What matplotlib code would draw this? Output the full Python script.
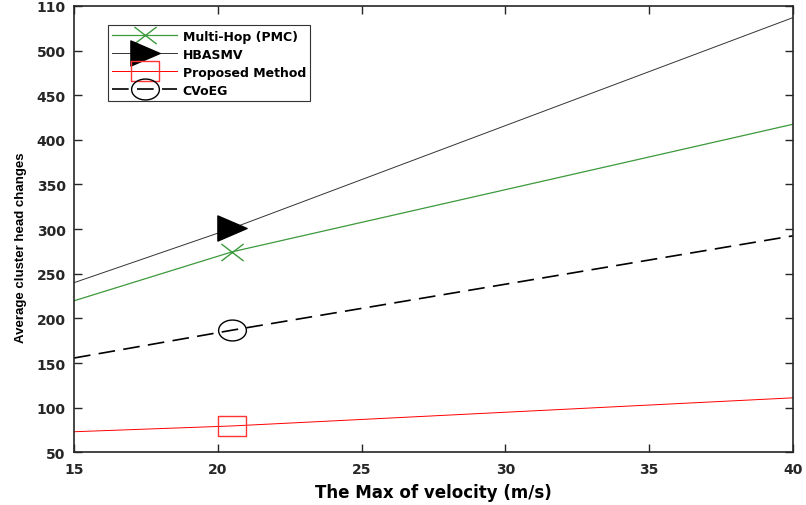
import numpy as np
import matplotlib
matplotlib.use("Agg")
import matplotlib.pyplot as plt
from matplotlib.path import Path

# velocity points (line ends plus the one point that carries a marker)
velocity = [15, 20.5, 40]
multi_hop = [219.7, 274.6, 417.5]
hbasmv = [240, 301, 537]
proposed = [73, 79.5, 111]
cvoeg = [155.6, 186.8, 292.5]

yticks = [50, 100, 150, 200, 250, 300, 350, 400, 450, 500, 550]
ytick_labels = ['50', '100', '150', '200', '250', '300', '350', '400', '450', '500', '110']
xticks = [15, 20, 25, 30, 35, 40]

plt.rcParams['font.family'] = ['DejaVu Sans']
plt.rcParams['font.weight'] = 'bold'

# the picture is stretched sideways, so markers are a bit wider than tall
t = np.linspace(0, 2 * np.pi, 60)
ellipse = Path(np.column_stack([1.33 * np.cos(t), np.sin(t)]), closed=True)
rect = Path([(-1.33, -1), (1.33, -1), (1.33, 1), (-1.33, 1), (-1.33, -1)], closed=True)
tri = Path([(-1.0, 0.86), (1.0, 0), (-1.0, -0.86), (-1.0, 0.86)], closed=True)
cross = Path([(-1.3, -1), (1.3, 1), (-1.3, 1), (1.3, -1)],
             [Path.MOVETO, Path.LINETO, Path.MOVETO, Path.LINETO])

fig = plt.figure(figsize=(8.06, 5.06), dpi=100)
ax = fig.add_axes([0.0918, 0.1042, 0.8921, 0.8820])

ax.plot(velocity, multi_hop, color='#3c9a3c', lw=0.9, marker=cross, markevery=[1],
        ms=16, mew=1.0, label='Multi-Hop (PMC)')
ax.plot(velocity, hbasmv, color='#333333', lw=0.7, marker=tri, markevery=[1],
        ms=21, mfc='black', mec='black', label='HBASMV')
ax.plot(velocity, proposed, color='red', lw=0.7, marker=rect, markevery=[1],
        ms=20, mfc='none', mec='#ff3333', mew=1.0, label='Proposed Method')
ax.plot(velocity, cvoeg, color='black', lw=1.2, ls=(0, (10, 5)), marker=ellipse,
        markevery=[1], ms=20, mfc='none', mec='black', mew=1.0, label='CVoEG')

ax.set_xlim(15, 40)
ax.set_ylim(50, 550)
ax.set_xticks(xticks)
ax.set_yticks(yticks)
ax.set_yticklabels(ytick_labels)
ax.tick_params(direction='in', length=6, width=1.0, labelsize=10, top=True, right=True,
               colors='#262626')
ax.tick_params(axis='y', pad=6)
ax.tick_params(axis='x', pad=7)
for s in ax.spines.values():
    s.set_linewidth(1.2)
    s.set_color('#262626')

ax.set_xlabel('The Max of velocity (m/s)', fontsize=12, fontweight='bold', labelpad=5)
ax.set_ylabel('Average cluster head changes', fontsize=9.5, fontweight='bold',
              family='Liberation Sans')
ax.yaxis.set_label_coords(-0.066, 0.46)

leg = ax.legend(loc='upper left', bbox_to_anchor=(0.047, 0.957), borderaxespad=0,
                fontsize=9, handlelength=5.2, labelspacing=0.4, handletextpad=0.45,
                borderpad=0.35, fancybox=False, framealpha=1, edgecolor='#333333')
leg.get_frame().set_linewidth(0.8)

fig.savefig('out.png', dpi=100)
